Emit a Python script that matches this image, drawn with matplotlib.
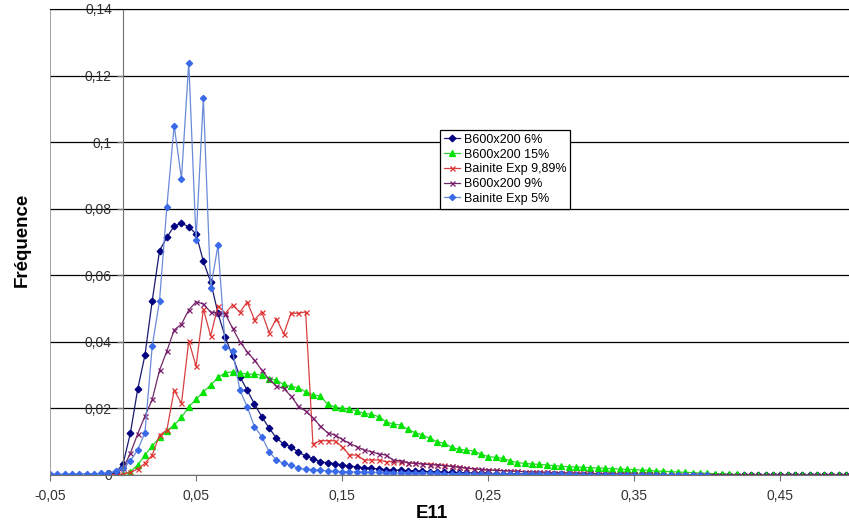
import numpy as np
import matplotlib
matplotlib.use("Agg")
import matplotlib.pyplot as plt
from matplotlib.ticker import FixedLocator, FuncFormatter

plt.rcParams['font.family'] = ['Liberation Sans', 'DejaVu Sans']

STEP = 0.005

# B600x200 6%  (x de -0,01 a 0,5)
x0_b6 = -0.01
b600_6 = [
    0.0002, 0.0008,
    0.0033, 0.0125, 0.0257, 0.0360, 0.0524, 0.0674, 0.0714, 0.0748, 0.0756, 0.0746,
    0.0724, 0.0642, 0.0580, 0.0486, 0.0414, 0.0357, 0.0295, 0.0255, 0.0213, 0.0175,
    0.0141, 0.0111, 0.0093, 0.0085, 0.0069, 0.0057, 0.0049, 0.0040, 0.0037, 0.0034,
    0.0030, 0.0027, 0.0024, 0.0022, 0.0020, 0.0018, 0.0016, 0.0015, 0.0014, 0.0013,
    0.0012, 0.0011, 0.0010, 0.0009, 0.0008, 0.0008, 0.0007, 0.0006, 0.0006, 0.0005,
    0.0005, 0.0004, 0.0004, 0.0004, 0.0003, 0.0003, 0.0003, 0.0002, 0.0002, 0.0002,
    0.0002, 0.0002, 0.0001, 0.0001, 0.0001, 0.0001, 0.0001, 0.0001, 0.0001, 0.0001,
    0.0001, 0.0001, 0.0001, 0, 0, 0, 0, 0, 0, 0,
    0, 0, 0, 0, 0, 0, 0, 0, 0, 0,
    0, 0, 0, 0, 0, 0, 0, 0, 0, 0, 0,
]

# B600x200 15%  (x de -0,005 a 0,5)
x0_b15 = -0.005
b600_15 = [
    0.0,
    0.0002, 0.0010, 0.0030, 0.0060, 0.0087, 0.0113, 0.0133, 0.0150, 0.0173, 0.0205,
    0.0227, 0.0250, 0.0270, 0.0293, 0.0307, 0.0310, 0.0307, 0.0303, 0.0303, 0.0300,
    0.0289, 0.0285, 0.0272, 0.0266, 0.0262, 0.0250, 0.0241, 0.0237, 0.0213, 0.0205,
    0.0200, 0.0198, 0.0193, 0.0185, 0.0183, 0.0175, 0.0160, 0.0153, 0.0150, 0.0137,
    0.0127, 0.0120, 0.0110, 0.0100, 0.0095, 0.0083, 0.0077, 0.0075, 0.0072, 0.0063,
    0.0055, 0.0053, 0.0050, 0.0043, 0.0037, 0.0035, 0.0033, 0.0032, 0.0030, 0.0028,
    0.0026, 0.0025, 0.0024, 0.0023, 0.0022, 0.0021, 0.0020, 0.0019, 0.0018, 0.0017,
    0.0016, 0.0015, 0.0014, 0.0012, 0.0011, 0.0010, 0.0009, 0.0008, 0.0007, 0.0006,
    0.0005, 0.0004, 0.0003, 0.0002, 0.0002, 0.0001, 0.0001, 0.0001, 0, 0,
    0, 0, 0, 0, 0, 0, 0, 0, 0, 0, 0,
]

# Bainite Exp 9,89%  (x de -0,01 a 0,4)
x0_be9 = -0.01
bainite_9 = [
    0.0, 0.0001,
    0.0003, 0.0008, 0.0018, 0.0035, 0.0060, 0.0120, 0.0135, 0.0255, 0.0215, 0.0403,
    0.0327, 0.0498, 0.0418, 0.0508, 0.0486, 0.0511, 0.0489, 0.0520, 0.0466, 0.0490,
    0.0428, 0.0470, 0.0424, 0.0486, 0.0486, 0.0490, 0.0093, 0.0103, 0.0103, 0.0103,
    0.0085, 0.0060, 0.0060, 0.0045, 0.0045, 0.0045, 0.0040, 0.0040, 0.0039, 0.0037,
    0.0035, 0.0034, 0.0033, 0.0031, 0.0029, 0.0026, 0.0023, 0.0020, 0.0018, 0.0016,
    0.0015, 0.0014, 0.0013, 0.0012, 0.0011, 0.0010, 0.0009, 0.0008, 0.0008, 0.0007,
    0.0007, 0.0006, 0.0005, 0.0005, 0.0004, 0.0004, 0.0003, 0.0003, 0.0003, 0.0002,
    0.0002, 0.0002, 0.0002, 0.0001, 0.0001, 0.0001, 0.0001, 0.0001, 0, 0, 0,
]

# B600x200 9%  (x de -0,005 a 0,5)
x0_b9 = -0.005
b600_9 = [
    0.0003,
    0.0020, 0.0065, 0.0123, 0.0177, 0.0227, 0.0315, 0.0372, 0.0436, 0.0453, 0.0496,
    0.0520, 0.0514, 0.0489, 0.0488, 0.0484, 0.0441, 0.0400, 0.0370, 0.0345, 0.0315,
    0.0287, 0.0267, 0.0260, 0.0237, 0.0207, 0.0192, 0.0172, 0.0147, 0.0127, 0.0120,
    0.0107, 0.0095, 0.0085, 0.0075, 0.0070, 0.0063, 0.0060, 0.0045, 0.0043, 0.0037,
    0.0035, 0.0033, 0.0031, 0.0030, 0.0028, 0.0026, 0.0024, 0.0021, 0.0019, 0.0017,
    0.0015, 0.0014, 0.0013, 0.0012, 0.0011, 0.0010, 0.0009, 0.0009, 0.0008, 0.0007,
    0.0007, 0.0006, 0.0006, 0.0005, 0.0005, 0.0004, 0.0004, 0.0003, 0.0003, 0.0003,
    0.0002, 0.0002, 0.0002, 0.0002, 0.0001, 0.0001, 0.0001, 0.0001, 0.0001, 0.0001,
    0.0001, 0, 0, 0, 0, 0, 0, 0, 0, 0,
    0, 0, 0, 0, 0, 0, 0, 0, 0, 0, 0,
]

# Bainite Exp 5%  (x de -0,05 a 0,4)
x0_be5 = -0.05
bainite_5 = [
    0.0002, 0.0003, 0.0002, 0.0003, 0.0003, 0.0004, 0.0003, 0.0005, 0.0006, 0.0012,
    0.0020, 0.0043, 0.0075, 0.0127, 0.0388, 0.0524, 0.0806, 0.1050, 0.0890, 0.1239,
    0.0706, 0.1132, 0.0561, 0.0690, 0.0385, 0.0373, 0.0255, 0.0205, 0.0145, 0.0115,
    0.0070, 0.0045, 0.0035, 0.0030, 0.0020, 0.0017, 0.0016, 0.0014, 0.0012, 0.0011,
    0.0010, 0.0010, 0.0009, 0.0009, 0.0008, 0.0008, 0.0007, 0.0007, 0.0006, 0.0006,
    0.0006, 0.0005, 0.0005, 0.0005, 0.0004, 0.0004, 0.0004, 0.0004, 0.0003, 0.0003,
    0.0003, 0.0003, 0.0003, 0.0002, 0.0002, 0.0002, 0.0002, 0.0002, 0.0002, 0.0002,
    0.0002, 0.0002, 0.0001, 0.0001, 0.0001, 0.0001, 0.0001, 0.0001, 0.0001, 0.0001,
    0.0001, 0.0001, 0.0001, 0.0001, 0.0001, 0.0001, 0.0001, 0, 0, 0, 0,
]

# nom, x de depart, valeurs, couleur marqueur, couleur ligne, marqueur, taille
series = [
    ("B600x200 6%", x0_b6, b600_6, "#000080", "#1A1A70", "D", 3.4),
    ("B600x200 15%", x0_b15, b600_15, "#00E400", "#33CC33", "^", 4.0),
    ("Bainite Exp 9,89%", x0_be9, bainite_9, "#E03030", "#D84040", "x", 3.6),
    ("B600x200 9%", x0_b9, b600_9, "#7A1A6E", "#6E2A66", "x", 3.6),
    ("Bainite Exp 5%", x0_be5, bainite_5, "#3A6AE8", "#6A8AD8", "D", 3.2),
]

y_ticks = [0, 0.02, 0.04, 0.06, 0.08, 0.1, 0.12, 0.14]
x_ticks = [-0.05, 0.05, 0.15, 0.25, 0.35, 0.45]

fig = plt.figure(figsize=(8.49, 5.28), dpi=100)
ax = fig.add_axes([50 / 849, 53 / 528, 799 / 849, 466 / 528])

for nom, x0, vals, col, lc, mk, ms in series:
    x = np.round(x0 + STEP * np.arange(len(vals)), 3)
    ax.plot(x, vals, color=lc, lw=0.9, marker=mk, ms=ms,
            mfc=col, mec=col, mew=0.9, label=nom)

ax.set_xlim(-0.05, 0.497)
ax.set_ylim(0, 0.14)

ax.yaxis.set_major_locator(FixedLocator(y_ticks))
ax.xaxis.set_major_locator(FixedLocator(x_ticks))
fmt = FuncFormatter(lambda v, p: ("%g" % round(v, 3)).replace(".", ","))
ax.yaxis.set_major_formatter(fmt)
ax.xaxis.set_major_formatter(fmt)

ax.grid(axis="y", color="black", lw=0.9)
ax.set_axisbelow(True)

ax.spines["left"].set_position(("data", 0))
ax.spines["left"].set_color("#707070")
ax.spines["bottom"].set_color("#707070")
ax.spines["top"].set_color("black")
ax.spines["right"].set_visible(False)
ax.axvline(-0.05, color="#909090", lw=1.2)

ax.tick_params(axis="both", direction="out", length=4, width=0.8,
               color="#707070", labelsize=10, labelcolor="#333333")
ax.tick_params(axis="y", pad=4)
ax.tick_params(axis="x", pad=6)

fig.text(22 / 849, 1 - 240 / 528, "Fréquence", rotation=90, ha="center",
         va="center", fontsize=13.5, fontweight="bold")
fig.text(432 / 849, 1 - 514 / 528, "E11", ha="center", va="center",
         fontsize=13.5, fontweight="bold")

leg = ax.legend(loc="upper left", bbox_to_anchor=(440 / 849, 1 - 130 / 528),
                bbox_transform=fig.transFigure, fontsize=9, frameon=True,
                fancybox=False, edgecolor="black", framealpha=1,
                handlelength=1.3, handletextpad=0.3, labelspacing=0.22,
                borderpad=0.3, borderaxespad=0)
leg.get_frame().set_linewidth(0.9)

fig.savefig("out.png", dpi=100, facecolor="white")
